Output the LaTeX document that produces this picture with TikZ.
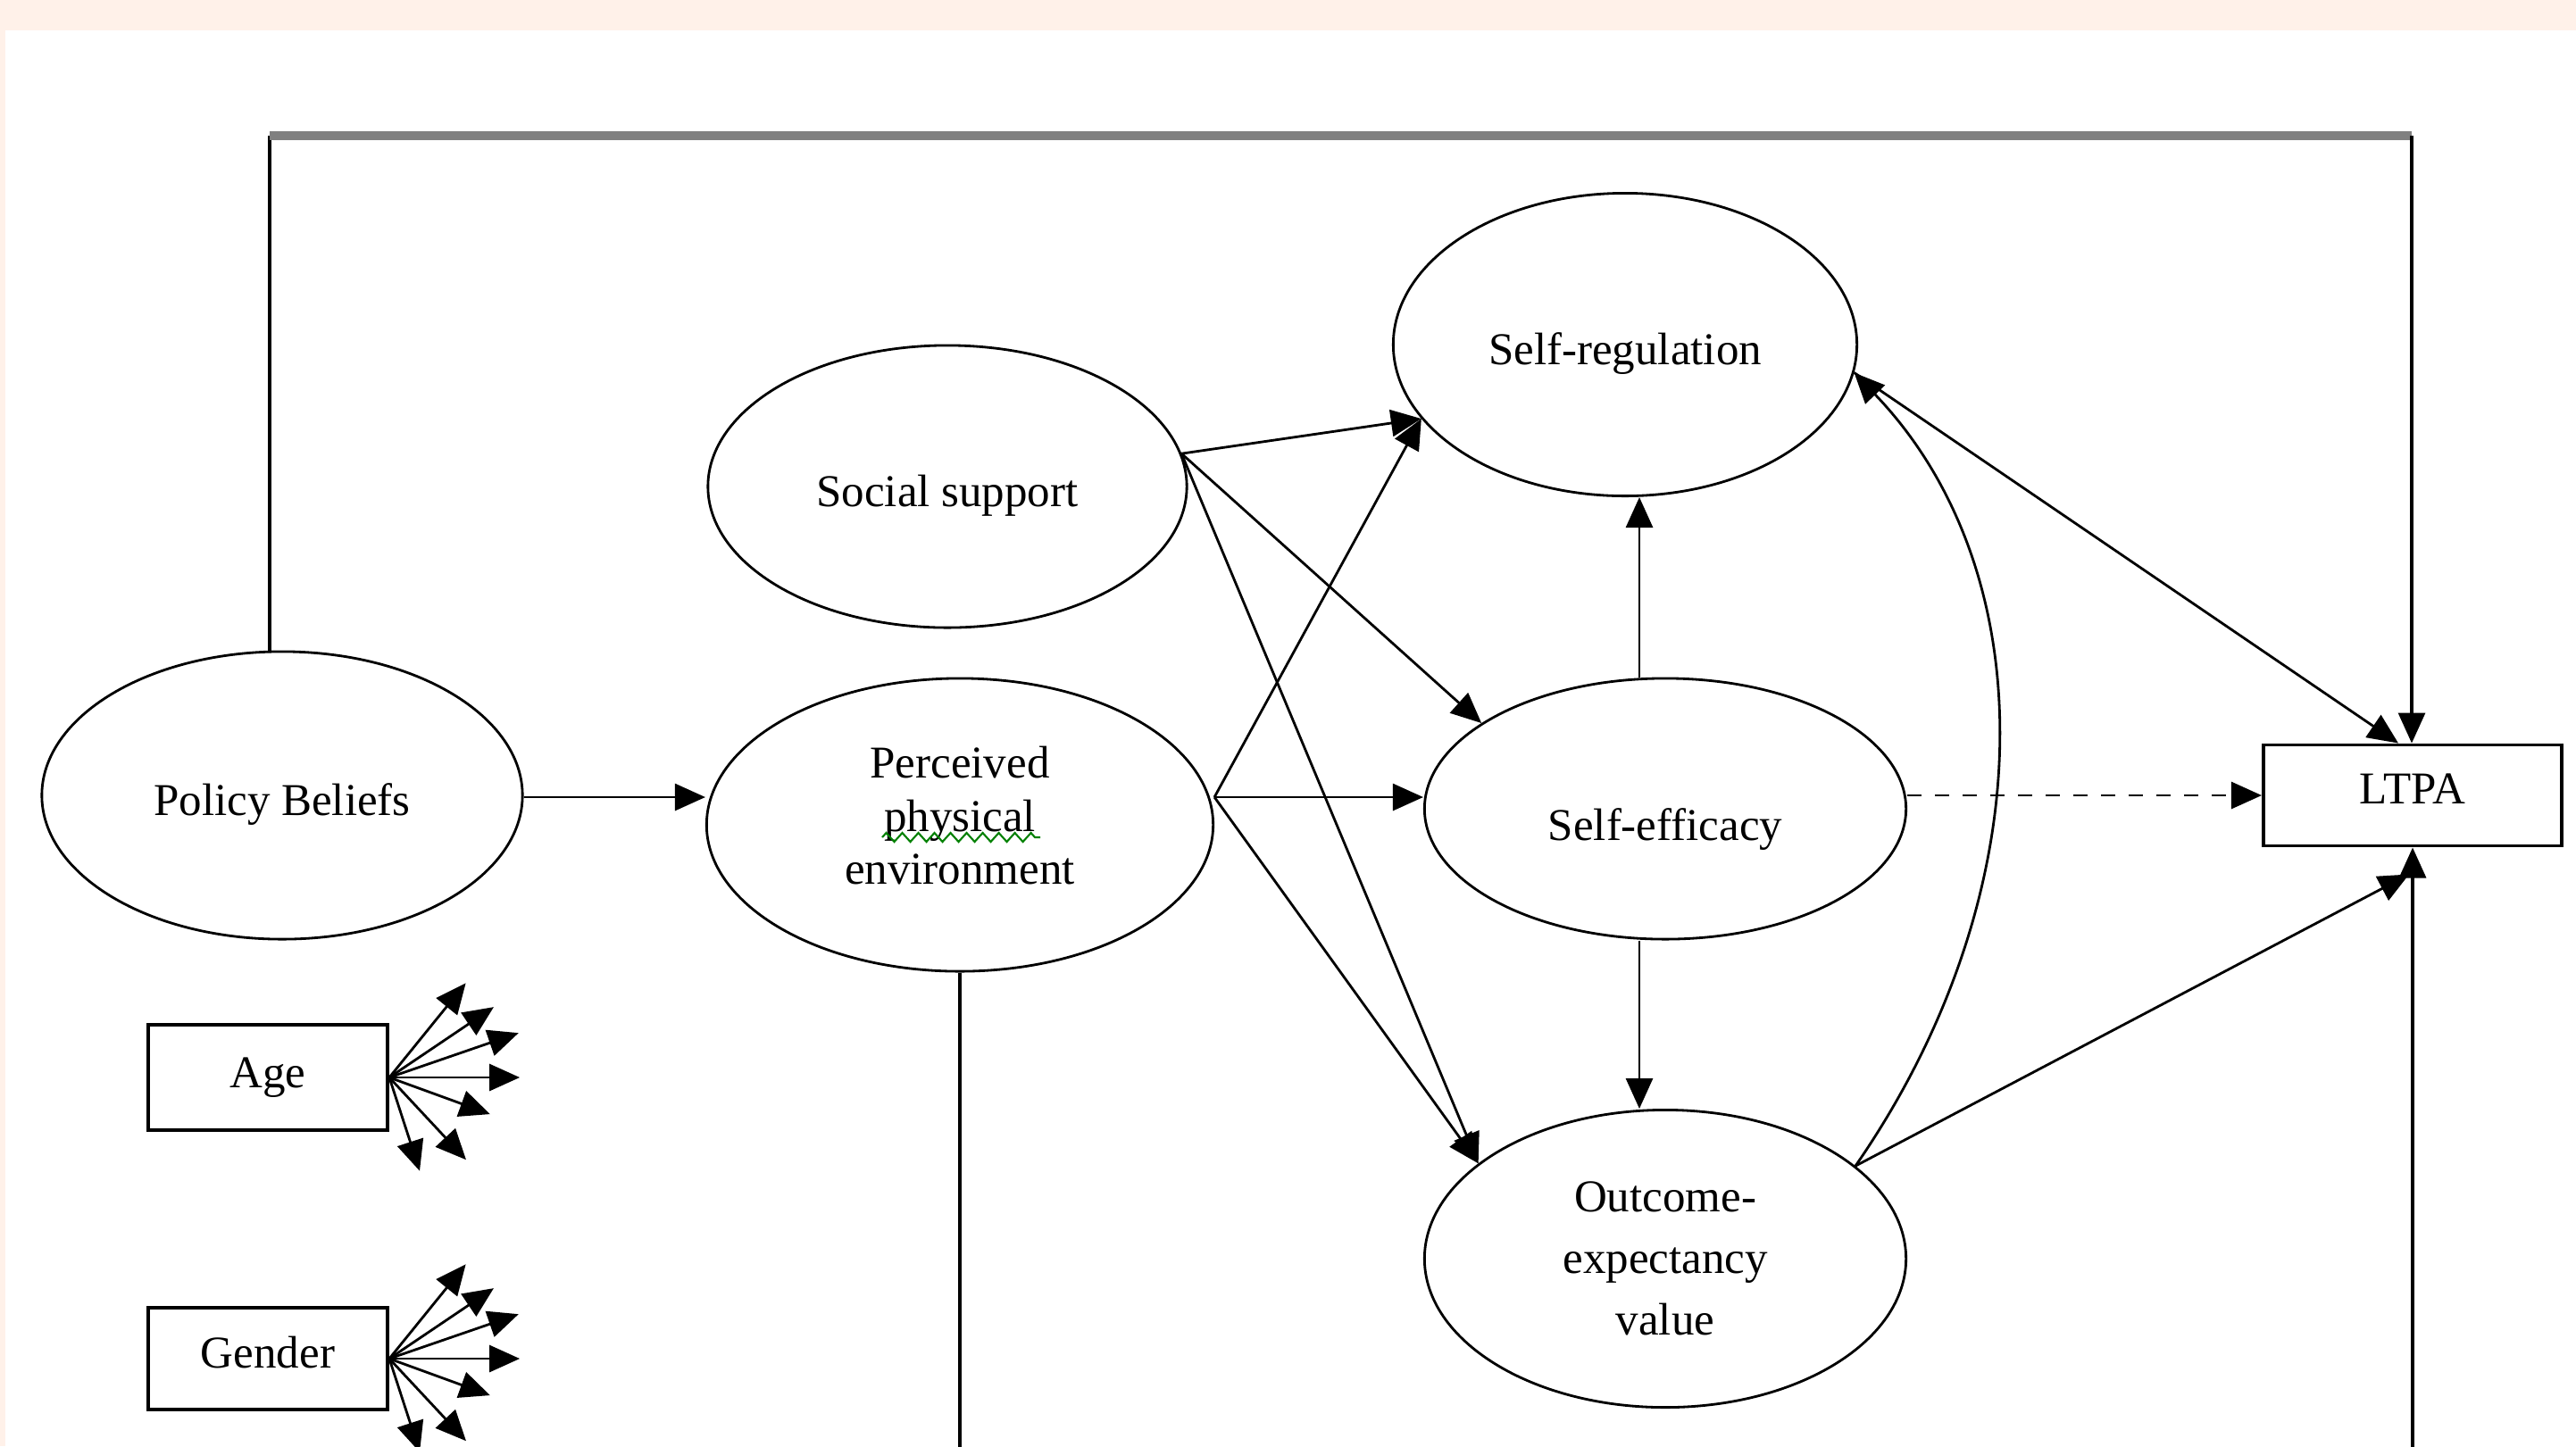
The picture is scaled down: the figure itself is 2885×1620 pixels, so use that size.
\documentclass[tikz,border=0pt]{standalone}
\usepackage{fontspec}
\setmainfont{Liberation Serif}
\usetikzlibrary{shapes,arrows.meta,calc,decorations.pathmorphing}
\definecolor{peach}{HTML}{FFF1E9}
\tikzstyle{oval} = [ellipse, draw, line width=0.8pt, inner sep=0pt, align=center]
\tikzstyle{block} = [rectangle, draw, line width=1.1pt, inner sep=0pt]
\tikzstyle{link} = [->, line width=0.8pt]

\begin{document}
\begin{tikzpicture}[x=0.01cm, y=-0.01cm, >={Triangle[length=0.34cm,width=0.3cm]}, font=\fontsize{14.5}{17}\selectfont]
   % page with its coloured margin
   \fill[peach] (0,0) rectangle (2885,1620);
   \fill[white] (6,34) rectangle (2885,1620);
   \useasboundingbox (0,0) rectangle (2885,1620);
   \clip (0,0) rectangle (2885,1620);

   \node[oval, minimum width=5.38cm, minimum height=3.22cm, text height=13pt, text depth=0pt] (pb)  at (316,891)  {Policy Beliefs};
   \node[oval, minimum width=5.36cm, minimum height=3.16cm, text height=13pt, text depth=0pt] (ss)  at (1061,545) {Social support};
   \node[oval, minimum width=5.67cm, minimum height=3.28cm, text height=38pt, text depth=0pt] (ppe) at (1075,924) {Perceived\\physical\\environment};
   \node[oval, minimum width=5.19cm, minimum height=3.39cm, text height=13pt, text depth=0pt] (sr)  at (1820,386) {Self-regulation};
   \node[oval, minimum width=5.39cm, minimum height=2.92cm, text height=20pt, text depth=0pt] (se)  at (1865,906) {Self-efficacy};
   \node[oval, minimum width=5.39cm, minimum height=3.33cm, font=\fontsize{14.5}{19.6}\selectfont] (oev) at (1865,1410) {Outcome-\\expectancy\\value};
   \node[block, minimum width=3.34cm, minimum height=1.13cm, text depth=4pt] (ltpa) at (2702,891) {LTPA};
   \node[block, minimum width=2.68cm, minimum height=1.18cm] (age)  at (300,1207) {Age};
   \node[block, minimum width=2.68cm, minimum height=1.14cm, text depth=4pt] (gen)  at (300,1522) {Gender};

   % spelling mark under "physical"
   \draw[green!50!black, line width=0.6pt, decorate, decoration={zigzag, segment length=0.18cm, amplitude=0.05cm}]
      ($(ppe.center)+(-87,14)$) -- ($(ppe.center)+(90,14)$);

   \coordinate (row) at (0,893);
   \coordinate (vx) at (1836,0);
   \coordinate (tl) at (302,152);
   \coordinate (tr) at (2701,152);

   \draw[link] (pb.east |- row) -- (ppe.west |- row);
   \draw[link] (ss.8) -- (sr.200);
   \draw[link] (ss.8) -- (se.155);
   \draw[link] (ss.8) -- (oev.153);
   \draw[link] (ppe.east |- row) -- (sr.200);
   \draw[link] (ppe.east |- row) -- (se.west |- row);
   \draw[link] (ppe.east |- row) -- (oev.153);
   \draw[link] (se.north -| vx) -- (sr.south -| vx);
   \draw[link] (se.south -| vx) -- (oev.north -| vx);
   \draw[link, dash pattern=on 0.16cm off 0.15cm] (se.east |- ltpa.west) -- (ltpa.west);
   \draw[link] (sr.-7) -- ($(ltpa.north)+(-16,0)$);
   \draw[link] (oev.26) .. controls (2290,1000) and (2290,640) .. (sr.-7);
   \draw[link] (oev.26) -- ($(ltpa.south)+(-4,30)$);

   % long paths round the outside
   \draw[line width=0.9pt] (pb.north -| tl) -- (tl);
   \draw[gray, line width=2.8pt] (tl) -- (tr);
   \draw[link, line width=0.9pt] (tr) -- (tr |- ltpa.north);
   \draw[link, line width=0.9pt] (ppe.south) -- ++(0,700) -| (ltpa.south);

   % covariates fan out
   \foreach \b in {age,gen}
      \foreach \a/\l [count=\i] in {51/1.36, 34/1.41, 19/1.53, 0/1.46, -20/1.20, -47/1.26, -72/1.10} {
         \coordinate (\b\i) at ($(\b.east)+(\a:\l cm)$);
         \draw[link] (\b.east) -- (\b\i);
      }
\end{tikzpicture}
\end{document}
